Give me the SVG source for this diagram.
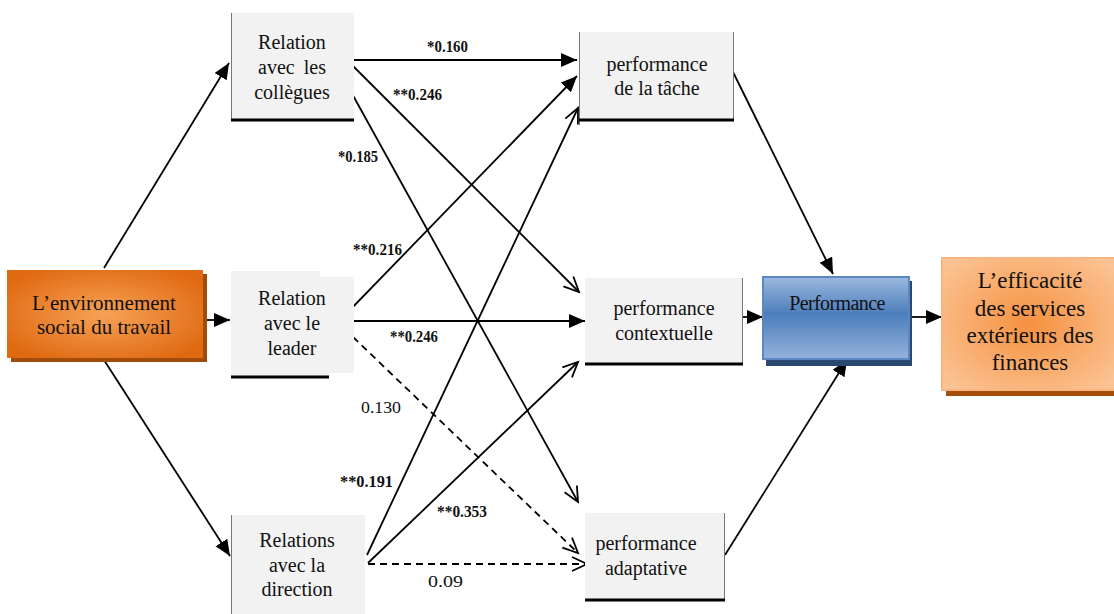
<svg xmlns="http://www.w3.org/2000/svg" width="1114" height="614" viewBox="0 0 1114 614">
  <style>
    .node text { font-family: "Liberation Serif", "Times New Roman", serif; fill: #111; text-anchor: middle; }
    .gray { fill: #f2f2f2; }
    .edge { stroke: #000; stroke-width: 1.8; fill: none; }
    .dash { stroke-dasharray: 7 5; }
    .lbl { font-family: "Liberation Serif", "Times New Roman", serif; font-size: 17px; fill: #111; }
    .b { font-weight: bold; }
    .side { stroke: #777; stroke-width: 1; }
    .base { stroke: #000; stroke-width: 3; }
  </style>
  <defs>
    <marker id="solid" markerUnits="userSpaceOnUse" markerWidth="18" markerHeight="16" refX="16" refY="7" orient="auto">
      <path d="M0,0 L16,7 L0,14 Z" fill="#000"/>
    </marker>
    <marker id="open" markerUnits="userSpaceOnUse" markerWidth="20" markerHeight="18" refX="16" refY="8" orient="auto">
      <path d="M1,1 L16,8 L1,15" fill="none" stroke="#000" stroke-width="1.8" stroke-dasharray="none"/>
    </marker>
    <radialGradient id="gEnv" cx="50%" cy="50%" r="60%">
      <stop offset="0" stop-color="#f6a257"/>
      <stop offset="1" stop-color="#e06a12"/>
    </radialGradient>
    <radialGradient id="gEff" cx="50%" cy="50%" r="65%">
      <stop offset="0" stop-color="#f5913f"/>
      <stop offset="1" stop-color="#fbc394"/>
    </radialGradient>
    <linearGradient id="gPerf" x1="0" y1="0" x2="0" y2="1">
      <stop offset="0" stop-color="#9cb9de"/>
      <stop offset="0.45" stop-color="#4c7dbc"/>
      <stop offset="1" stop-color="#94b3da"/>
    </linearGradient>
  </defs>

  <!-- connectors -->
  <g id="connectors">
    <path class="edge" d="M104,268 L229,63" marker-end="url(#solid)"/>
    <path class="edge" d="M203,320 L230,320" marker-end="url(#solid)"/>
    <path class="edge" d="M104,360 L230,556" marker-end="url(#solid)"/>

    <path class="edge" d="M352,60 L577,60" marker-end="url(#solid)"/>
    <path class="edge" d="M353,66 L579,292" marker-end="url(#open)"/>
    <path class="edge" d="M350,90 L578,502" marker-end="url(#open)"/>

    <path class="edge" d="M348,312 L577,76" marker-end="url(#solid)"/>
    <path class="edge" d="M348,321 L585,321" marker-end="url(#solid)"/>
    <path class="edge dash" d="M353,337 L578,553" marker-end="url(#open)"/>

    <path class="edge" d="M367,555 L578,108" marker-end="url(#open)"/>
    <path class="edge" d="M368,563 L578,362" marker-end="url(#open)"/>
    <path class="edge dash" d="M368,564 L587,564" marker-end="url(#open)"/>

    <path class="edge" d="M733,72 L833,274" marker-end="url(#solid)"/>
    <path class="edge" d="M733,317 L763,317" marker-end="url(#solid)"/>
    <path class="edge" d="M725,555 L847,360" marker-end="url(#solid)"/>
    <path class="edge" d="M910,317 L942,317" marker-end="url(#solid)"/>

    <!-- path coefficients -->
    <text class="lbl b" x="427" y="52" textLength="41" lengthAdjust="spacingAndGlyphs">*0.160</text>
    <text class="lbl b" x="393" y="100" textLength="49" lengthAdjust="spacingAndGlyphs">**0.246</text>
    <text class="lbl b" x="338" y="162" textLength="40" lengthAdjust="spacingAndGlyphs">*0.185</text>
    <text class="lbl b" x="353" y="255" textLength="49" lengthAdjust="spacingAndGlyphs">**0.216</text>
    <text class="lbl b" x="390" y="342" textLength="48" lengthAdjust="spacingAndGlyphs">**0.246</text>
    <text class="lbl" x="361" y="413" textLength="40" lengthAdjust="spacingAndGlyphs">0.130</text>
    <text class="lbl b" x="340" y="487" textLength="53" lengthAdjust="spacingAndGlyphs">**0.191</text>
    <text class="lbl b" x="437" y="517" textLength="50" lengthAdjust="spacingAndGlyphs">**0.353</text>
    <text class="lbl" x="428" y="587" textLength="35" lengthAdjust="spacingAndGlyphs">0.09</text>
  </g>

  <!-- source node -->
  <g id="environnement" class="node">
    <rect x="11" y="274" width="196" height="88" fill="#a24c0c"/>
    <rect x="7" y="270" width="196" height="88" fill="url(#gEnv)"/>
    <text font-size="21" x="104" y="310">L’environnement</text>
    <text font-size="21" x="104" y="334">social du travail</text>
  </g>

  <!-- relation nodes -->
  <g id="collegues" class="node">
    <rect class="gray" x="231" y="13" width="123" height="106"/>
    <line class="side" x1="231.5" y1="13" x2="231.5" y2="119"/>
    <line class="base" x1="231" y1="120" x2="354" y2="120"/>
    <text font-size="20" x="292" y="49">Relation</text>
    <text font-size="20" x="292" y="74" word-spacing="4">avec les</text>
    <text font-size="20" x="292" y="99">collègues</text>
  </g>

  <g id="leader" class="node">
    <path class="gray" d="M231,271 L320,271 L320,277 L354,277 L354,373 L329,373 L329,376 L231,376 Z"/>
    <line class="base" x1="231" y1="377" x2="329" y2="377"/>
    <text font-size="20" x="292" y="305">Relation</text>
    <text font-size="20" x="292" y="330">avec le</text>
    <text font-size="20" x="292" y="355">leader</text>
  </g>

  <g id="direction" class="node">
    <rect class="gray" x="231" y="515" width="134" height="99"/>
    <line class="side" x1="231.5" y1="515" x2="231.5" y2="614"/>
    <text font-size="20" x="297" y="547">Relations</text>
    <text font-size="20" x="297" y="572">avec la</text>
    <text font-size="20" x="297" y="596">direction</text>
  </g>

  <!-- performance dimensions -->
  <g id="tache" class="node">
    <rect class="gray" x="579" y="32" width="155" height="87"/>
    <line class="side" x1="579.5" y1="32" x2="579.5" y2="125"/>
    <line class="side" x1="733.5" y1="32" x2="733.5" y2="119"/>
    <line class="base" x1="579" y1="120" x2="734" y2="120"/>
    <text font-size="20" x="657" y="71">performance</text>
    <text font-size="20" x="657" y="95">de la tâche</text>
  </g>

  <g id="contextuelle" class="node">
    <rect class="gray" x="585" y="278" width="158" height="85"/>
    <line class="side" x1="742.5" y1="278" x2="742.5" y2="363"/>
    <line class="base" x1="585" y1="364" x2="743" y2="364"/>
    <text font-size="20" x="664" y="315">performance</text>
    <text font-size="20" x="664" y="340">contextuelle</text>
  </g>

  <g id="adaptative" class="node">
    <rect class="gray" x="585" y="513" width="140" height="86"/>
    <line class="side" x1="724.5" y1="513" x2="724.5" y2="599"/>
    <line class="base" x1="585" y1="600" x2="725" y2="600"/>
    <text font-size="20" x="646" y="550">performance</text>
    <text font-size="20" x="646" y="575">adaptative</text>
  </g>

  <!-- aggregate performance -->
  <g id="performance" class="node">
    <rect x="766" y="281" width="146" height="85" fill="#2b4872"/>
    <rect x="763" y="277" width="146" height="82" fill="url(#gPerf)" stroke="#5b87c2" stroke-width="2"/>
    <text font-size="20" x="837" y="310" letter-spacing="-0.6">Performance</text>
  </g>

  <!-- outcome -->
  <g id="efficacite" class="node">
    <rect x="946" y="263" width="168" height="133" fill="#a54d0a"/>
    <rect x="942" y="258" width="174" height="132" fill="url(#gEff)" stroke="#f8b57f" stroke-width="2"/>
    <text font-size="23" x="1030" y="288">L’efficacité</text>
    <text font-size="23" x="1030" y="316">des services</text>
    <text font-size="23" x="1030" y="343">extérieurs des</text>
    <text font-size="23" x="1030" y="370">finances</text>
  </g>
</svg>
